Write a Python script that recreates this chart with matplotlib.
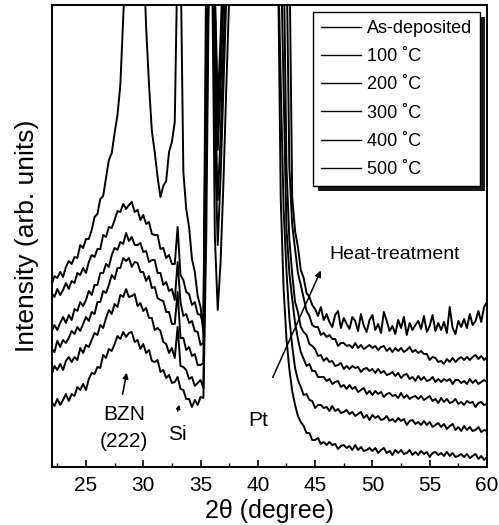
import matplotlib
matplotlib.use("Agg")
import matplotlib.pyplot as plt
import matplotlib.patheffects as pe
import numpy as np

plt.rcParams['font.family'] = ['Liberation Sans', 'DejaVu Sans']

# 2-theta sampling, 22..60 deg in 0.25 deg steps
two_theta = 22.0 + 0.25 * np.arange(153)

# intensities (arb. units), 8 values per 2 degrees
as_dep = [
    65, 61, 68, 62, 67, 73, 66, 73,
    71, 80, 77, 83, 77, 88, 94, 93,
    100, 99, 112, 109, 118, 116, 123, 131,
    128, 135, 130, 134, 135, 125, 127, 118,
    123, 114, 117, 106, 105, 107, 95, 97,
    89, 92, 84, 85, 90, 78, 77, 68,
    68, 60, 67, 62, 70, 69, 230, 520,
    520, 230, 157, 205, 285, 380, 470, 520,
    520, 520, 520, 520, 520, 520, 520, 520,
    520, 520, 520, 520, 520, 520, 520, 520,
    268, 178, 128, 98, 76, 62, 51, 45,
    41, 34, 34, 27, 27, 29, 23, 25,
    22, 25, 22, 23, 18, 21, 22, 19,
    21, 17, 22, 17, 20, 16, 17, 19,
    16, 19, 14, 17, 19, 14, 16, 12,
    17, 14, 17, 13, 14, 17, 12, 15,
    12, 16, 13, 15, 10, 14, 15, 12,
    14, 11, 15, 11, 14, 10, 11, 13,
    10, 13, 9, 11, 13, 8, 11, 7,
    10]
t100 = [
    92, 101, 97, 103, 97, 106, 110, 105,
    110, 107, 119, 114, 122, 120, 127, 134,
    132, 142, 139, 149, 157, 153, 163, 160,
    172, 170, 178, 170, 171, 173, 161, 164,
    156, 159, 149, 149, 137, 139, 136, 125,
    123, 114, 119, 109, 140, 101, 100, 97,
    88, 90, 81, 84, 87, 79, 300, 520,
    520, 330, 222, 290, 380, 470, 520, 520,
    520, 520, 520, 520, 520, 520, 520, 520,
    520, 520, 520, 520, 520, 520, 520, 520,
    383, 258, 196, 149, 121, 99, 87, 80,
    72, 73, 67, 66, 59, 62, 62, 59,
    60, 56, 61, 56, 58, 54, 55, 57,
    53, 55, 51, 53, 55, 49, 52, 47,
    52, 49, 51, 47, 48, 51, 46, 48,
    45, 49, 46, 48, 42, 46, 47, 43,
    45, 42, 46, 42, 45, 40, 42, 44,
    40, 43, 38, 41, 43, 37, 40, 36,
    41, 37, 40, 36, 37, 40, 35, 37,
    36]
t200 = [
    118, 115, 126, 120, 127, 124, 129, 136,
    133, 140, 136, 143, 150, 146, 155, 153,
    165, 165, 176, 174, 182, 192, 188, 199,
    199, 209, 206, 209, 200, 205, 204, 195,
    195, 186, 191, 179, 180, 169, 167, 166,
    155, 155, 143, 143, 175, 129, 129, 117,
    120, 111, 113, 102, 102, 104, 350, 520,
    520, 380, 267, 330, 420, 510, 520, 520,
    520, 520, 520, 520, 520, 520, 520, 520,
    520, 520, 520, 520, 520, 520, 520, 520,
    520, 378, 238, 194, 168, 144, 128, 115,
    108, 101, 103, 96, 96, 90, 90, 90,
    86, 88, 83, 85, 86, 80, 82, 78,
    82, 78, 80, 75, 77, 79, 73, 76,
    72, 76, 73, 75, 70, 73, 74, 71,
    72, 69, 74, 69, 72, 68, 70, 71,
    68, 71, 67, 69, 71, 66, 68, 64,
    69, 65, 68, 64, 65, 68, 63, 65,
    62, 66, 64, 65, 60, 64, 65, 62,
    63]
t300 = [
    135, 142, 137, 144, 150, 144, 152, 147,
    158, 156, 165, 161, 167, 176, 172, 182,
    182, 194, 194, 203, 200, 212, 219, 217,
    225, 223, 234, 226, 230, 222, 222, 224,
    215, 216, 205, 207, 207, 194, 194, 182,
    185, 176, 178, 167, 205, 165, 151, 153,
    144, 146, 136, 135, 122, 124, 400, 520,
    520, 430, 317, 380, 470, 520, 520, 520,
    520, 520, 520, 520, 520, 520, 520, 520,
    520, 520, 520, 520, 520, 520, 520, 520,
    520, 520, 300, 228, 193, 165, 155, 140,
    135, 132, 123, 121, 118, 111, 112, 106,
    109, 105, 106, 101, 102, 104, 98, 101,
    98, 101, 99, 100, 95, 98, 99, 96,
    98, 94, 98, 94, 96, 92, 93, 95,
    91, 94, 89, 92, 93, 88, 90, 86,
    91, 87, 90, 86, 87, 90, 85, 88,
    85, 88, 86, 88, 83, 87, 87, 84,
    86, 83, 88, 84, 87, 83, 85, 87,
    85]
t400 = [
    174, 170, 178, 172, 177, 184, 178, 186,
    184, 194, 192, 199, 194, 205, 212, 210,
    218, 218, 232, 230, 240, 239, 247, 256,
    255, 263, 258, 262, 265, 255, 257, 247,
    252, 243, 245, 233, 232, 232, 218, 219,
    209, 212, 203, 203, 240, 192, 187, 175,
    173, 162, 165, 153, 152, 142, 430, 520,
    520, 460, 342, 400, 490, 520, 520, 520,
    520, 520, 520, 520, 520, 520, 520, 520,
    520, 520, 520, 520, 520, 520, 520, 520,
    520, 520, 520, 300, 242, 218, 194, 182,
    169, 156, 151, 142, 140, 140, 132, 134,
    130, 132, 128, 128, 121, 124, 124, 121,
    122, 119, 124, 119, 122, 118, 120, 122,
    119, 121, 117, 120, 121, 116, 119, 115,
    119, 116, 119, 115, 117, 120, 115, 117,
    114, 116, 113, 113, 107, 110, 109, 105,
    106, 103, 108, 105, 109, 105, 108, 110,
    107, 110, 107, 110, 112, 108, 111, 107,
    110]
t500 = [
    182, 191, 189, 195, 190, 200, 206, 203,
    210, 209, 222, 219, 228, 228, 237, 250,
    253, 268, 271, 289, 307, 314, 334, 352,
    382, 447, 520, 520, 520, 520, 520, 520,
    520, 440, 383, 336, 315, 290, 270, 281,
    286, 315, 325, 345, 520, 520, 295, 258,
    240, 208, 195, 171, 160, 134, 520, 520,
    520, 480, 362, 430, 520, 520, 520, 520,
    520, 520, 520, 520, 520, 520, 520, 520,
    520, 520, 520, 520, 520, 520, 520, 520,
    520, 520, 520, 520, 270, 236, 220, 197,
    189, 174, 170, 162, 158, 151, 160, 147,
    153, 145, 140, 152, 156, 139, 149, 143,
    138, 150, 146, 136, 153, 141, 135, 147,
    152, 137, 143, 134, 155, 146, 136, 141,
    133, 147, 139, 150, 132, 144, 137, 142,
    146, 138, 151, 135, 141, 152, 136, 144,
    137, 145, 134, 160, 139, 133, 146, 140,
    148, 139, 153, 142, 146, 156, 145, 160,
    165]

series = [as_dep, t100, t200, t300, t400, t500]
labels = ["As-deposited", "100 \u02daC", "200 \u02daC", "300 \u02daC", "400 \u02daC", "500 \u02daC"]

fig = plt.figure(figsize=(4.99, 5.25), dpi=100)
ax = fig.add_axes([0.1034, 0.1105, 0.8725, 0.88])

for s, lab in zip(series, labels):
    ax.plot(two_theta, s, color='black', lw=1.4, label=lab)

ax.set_xlim(22, 60)
ax.set_ylim(0, 462)
ax.set_xticks([25, 30, 35, 40, 45, 50, 55, 60])
ax.set_xticks(np.arange(22.5, 60, 2.5), minor=True)
ax.set_yticks([])
ax.tick_params(axis='x', which='major', direction='in', length=5, width=1.2, labelsize=15, pad=6.5)
ax.tick_params(axis='x', which='minor', direction='in', length=3, width=1.0)
for sp in ax.spines.values():
    sp.set_linewidth(1.4)

ax.set_xlabel("2\u03b8 (degree)", fontsize=18, labelpad=3)
ax.set_ylabel("Intensity (arb. units)", fontsize=19, labelpad=9)

# annotations
ax.text(28.3, 52, "BZN", fontsize=15, ha='center', va='center')
ax.text(28.3, 25, "(222)", fontsize=15, ha='center', va='center')
ax.annotate("", xy=(28.6, 97), xytext=(28.15, 70),
            arrowprops=dict(arrowstyle='-|>', color='black', lw=1.2, mutation_scale=8))
ax.text(32.95, 32, "Si", fontsize=15, ha='center', va='center')
ax.annotate("", xy=(33.2, 65), xytext=(32.95, 53),
            arrowprops=dict(arrowstyle='-|>', color='black', lw=1.0, mutation_scale=6))
ax.text(40.05, 46, "Pt", fontsize=15, ha='center', va='center')
ax.text(51.9, 212, "Heat-treatment", fontsize=14, ha='center', va='center')
ax.annotate("", xy=(45.6, 199), xytext=(41.2, 87),
            arrowprops=dict(arrowstyle='-|>', color='black', lw=1.1, mutation_scale=9))

leg = ax.legend(loc='upper right', bbox_to_anchor=(0.984, 0.985), fontsize=13,
                frameon=True, fancybox=False, edgecolor='black', framealpha=1,
                handlelength=2.2, handletextpad=0.3, labelspacing=0.62,
                borderpad=0.45, borderaxespad=0.0)
leg.get_frame().set_linewidth(1.0)
for h in leg.get_lines():
    h.set_linewidth(1.0)
leg.get_frame().set_path_effects([
    pe.SimplePatchShadow(offset=(3.5, -3.5), shadow_rgbFace='0.1', alpha=1.0),
    pe.Normal()])

fig.savefig("out.png", dpi=100)
